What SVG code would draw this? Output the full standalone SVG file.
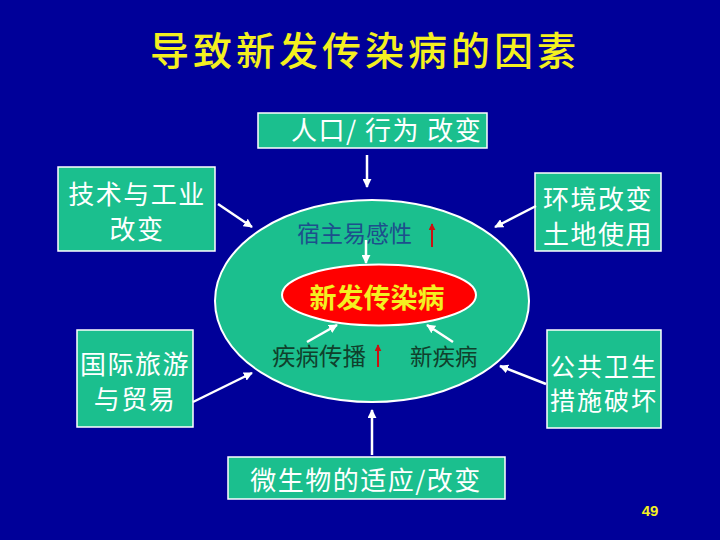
<svg xmlns="http://www.w3.org/2000/svg" width="720" height="540" viewBox="0 0 720 540">
<defs>
<style>
.box{fill:#1bbf8e;stroke:#ffffff;stroke-width:1.5}
.bt{fill:#ffffff;font-family:"Noto Sans CJK SC","Noto Sans CJK TC",sans-serif;font-size:26px;letter-spacing:1.5px;text-anchor:middle}
.con{stroke:#ffffff;stroke-width:2.5;fill:none;marker-end:url(#ah)}
.red{stroke:#cc1111;stroke-width:2;fill:none;marker-end:url(#rh)}
</style>
<marker id="ah" viewBox="0 0 10 10" refX="9" refY="5" markerWidth="9" markerHeight="9" markerUnits="userSpaceOnUse" orient="auto">
<path d="M0,0 L10,5 L0,10 Z" fill="#ffffff"/>
</marker>
<marker id="rh" viewBox="0 0 10 10" refX="9" refY="5" markerWidth="7" markerHeight="7" markerUnits="userSpaceOnUse" orient="auto">
<path d="M0,0 L10,5 L0,10 Z" fill="#cc1111"/>
</marker>
</defs>
<rect width="720" height="540" fill="#000099"/>
<text x="365" y="65" fill="#f4f020" font-family="'Noto Sans CJK SC','Noto Sans CJK TC',sans-serif" font-size="39" font-weight="500" letter-spacing="4" text-anchor="middle">导致新发传染病的因素</text>

<g id="center">
<ellipse cx="372" cy="301" rx="157" ry="101" fill="#1bbf8e" stroke="#ffffff" stroke-width="2"/>
<ellipse cx="379" cy="295" rx="97" ry="30.5" fill="#ff0000" stroke="#ffffff" stroke-width="2"/>
<text x="377" y="308" fill="#f4f020" font-family="'Noto Sans CJK SC',sans-serif" font-size="27" font-weight="bold" text-anchor="middle">新发传染病</text>
</g>
<g id="host">
<text x="297" y="242" fill="#1d4f8c" font-family="'Noto Sans CJK SC',sans-serif" font-size="23">宿主易感性</text>
<line class="red" x1="432" y1="247" x2="432" y2="224"/>
</g>
<g id="spread">
<text x="272" y="365" fill="#10402c" font-family="'Noto Sans CJK SC',sans-serif" font-size="23.5">疾病传播</text>
<line class="red" x1="378" y1="367" x2="378" y2="345"/>
</g>
<g id="newdisease">
<text x="410" y="365" fill="#10402c" font-family="'Noto Sans CJK SC',sans-serif" font-size="22.5">新疾病</text>
</g>

<g id="n-top">
<rect class="box" x="258" y="113" width="229" height="35"/>
<text class="bt" x="291" y="140" style="text-anchor:start" letter-spacing="0.5">人口/ 行为 改变</text>
</g>
<g id="n-lt">
<rect class="box" x="58" y="167" width="157" height="84"/>
<text class="bt" x="137" y="204">技术与工业</text>
<text class="bt" x="137" y="239">改变</text>
</g>
<g id="n-rt">
<rect class="box" x="535" y="173" width="126" height="78"/>
<text class="bt" x="598" y="209">环境改变</text>
<text class="bt" x="598" y="244">土地使用</text>
</g>
<g id="n-lb">
<rect class="box" x="77" y="330" width="116" height="97"/>
<text class="bt" x="135" y="374">国际旅游</text>
<text class="bt" x="135" y="409">与贸易</text>
</g>
<g id="n-rb">
<rect class="box" x="547" y="330" width="114" height="98"/>
<text class="bt" x="604" y="376" style="font-size:25px;letter-spacing:2px">公共卫生</text>
<text class="bt" x="604" y="410" style="font-size:25px;letter-spacing:2px">措施破坏</text>
</g>
<g id="n-bottom">
<rect class="box" x="228" y="457" width="277" height="42"/>
<text class="bt" x="366" y="490">微生物的适应/改变</text>
</g>
<text x="650" y="516" fill="#f4f020" font-family="'Liberation Sans',Arial,sans-serif" font-size="15" font-weight="bold" text-anchor="middle">49</text>

<g id="connectors">
<line class="con" x1="367" y1="155" x2="367" y2="187"/>
<line class="con" x1="218" y1="204" x2="252" y2="227"/>
<line class="con" x1="536" y1="206" x2="495" y2="227"/>
<line class="con" x1="193" y1="402" x2="252" y2="373"/>
<line class="con" x1="546" y1="384" x2="500" y2="366"/>
<line class="con" x1="372" y1="455" x2="372" y2="410"/>
<line class="con" x1="366" y1="240" x2="366" y2="263"/>
<line class="con" x1="307" y1="342" x2="337" y2="325"/>
<line class="con" x1="453" y1="342" x2="427" y2="325"/>
</g>
</svg>
